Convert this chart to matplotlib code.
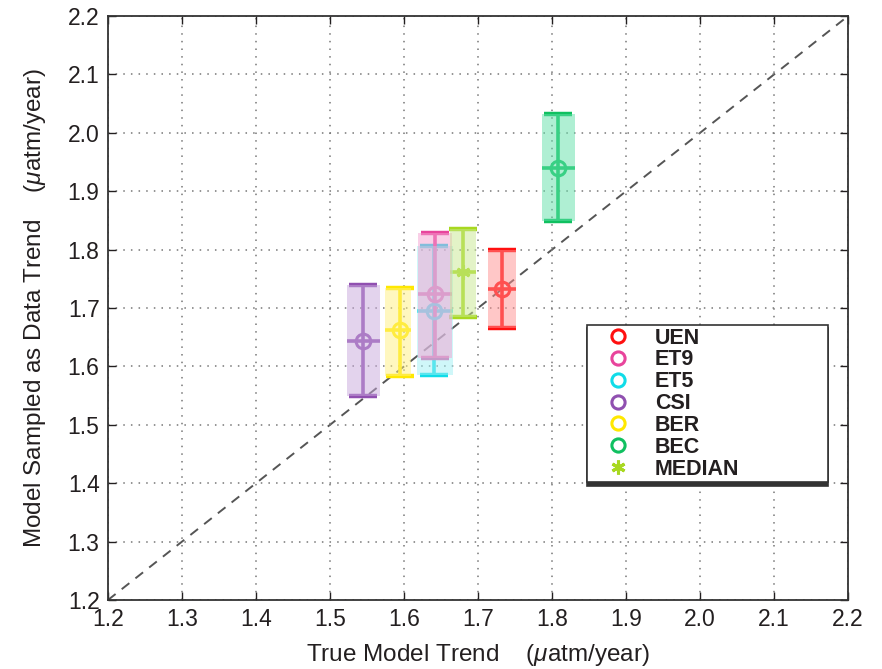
import matplotlib
matplotlib.use("Agg")
import matplotlib.pyplot as plt
from matplotlib.lines import Line2D
from matplotlib.patches import Rectangle

plt.rcParams['font.family'] = ['Liberation Sans', 'DejaVu Sans']
plt.rcParams['mathtext.fontset'] = 'custom'
plt.rcParams['mathtext.it'] = 'Liberation Sans:italic'
plt.rcParams['mathtext.rm'] = 'Liberation Sans'

# ---- data ----
names = ['UEN', 'ET9', 'ET5', 'CSI', 'BER', 'BEC', 'MEDIAN']
x_true = [1.732, 1.642, 1.640, 1.545, 1.594, 1.808, 1.679]
y_samp = [1.733, 1.724, 1.695, 1.644, 1.662, 1.939, 1.761]
y_low = [1.665, 1.615, 1.585, 1.549, 1.584, 1.849, 1.685]
y_high = [1.800, 1.828, 1.806, 1.739, 1.735, 2.032, 1.835]
x_low = [1.714, 1.619, 1.617, 1.523, 1.574, 1.786, 1.662]
x_high = [1.751, 1.665, 1.666, 1.567, 1.610, 1.831, 1.697]
colors = ['#ff1010', '#e8449c', '#10dce8', '#9050b0', '#ffe800', '#10c060', '#a8d820']
box_colors = ['#ff9090', '#f4a0d0', '#a0f0f4', '#c8a8dc', '#fff080', '#60e0a8', '#c8e890']
ticks = [1.2, 1.3, 1.4, 1.5, 1.6, 1.7, 1.8, 1.9, 2.0, 2.1, 2.2]
tick_labels = ['1.2', '1.3', '1.4', '1.5', '1.6', '1.7', '1.8', '1.9', '2.0', '2.1', '2.2']

txt = '#231f20'
fig = plt.figure(figsize=(8.82, 6.69), dpi=100)
ax = fig.add_axes([0.1224, 0.1031, 0.8392, 0.8730])

ax.plot([ticks[0], ticks[-1]], [ticks[0], ticks[-1]], ls=(0, (5, 4)), color='#555555', lw=1.4, zorder=1)

order = [3, 4, 2, 1, 6, 0, 5]
for i in order:
    c = colors[i]
    ax.errorbar(x_true[i], y_samp[i],
                yerr=[[y_samp[i] - y_low[i]], [y_high[i] - y_samp[i]]],
                fmt='none', ecolor=c, elinewidth=2.6, capsize=10, capthick=3.2, zorder=3)
    ax.errorbar(x_true[i], y_samp[i],
                xerr=[[x_true[i] - x_low[i]], [x_high[i] - x_true[i]]],
                fmt='none', ecolor=c, elinewidth=2.6, capsize=0, zorder=3)
    if names[i] == 'MEDIAN':
        ax.plot(x_true[i], y_samp[i], marker=(6, 2, 0), ms=10, mec=c, mew=2.2, ls='none', zorder=4)
    else:
        ax.plot(x_true[i], y_samp[i], marker='o', ms=10.5, mfc='none', mec=c, mew=2.2, ls='none', zorder=4)
    ax.add_patch(Rectangle((x_low[i], y_low[i]), x_high[i] - x_low[i], y_high[i] - y_low[i],
                           facecolor=box_colors[i], edgecolor='none', alpha=0.5, zorder=5))

ax.set_xlim(ticks[0], ticks[-1])
ax.set_ylim(ticks[0], ticks[-1])
ax.set_xticks(ticks)
ax.set_yticks(ticks)
ax.set_xticklabels(tick_labels)
ax.set_yticklabels(tick_labels)
ax.tick_params(direction='in', length=6, width=1, top=True, right=True,
               labelsize=16.5, colors=txt, pad=6)
ax.grid(True, ls=(0, (1, 4)), color='#777777', lw=1.1)
for s in ax.spines.values():
    s.set_color('#333333')
    s.set_linewidth(1.3)

ax.set_xlabel(r'True Model Trend    ($\mu$atm/year)', fontsize=17.5, color=txt, labelpad=8)
ax.set_ylabel(r'Model Sampled as Data Trend    ($\mu$atm/year)', fontsize=17.5, color=txt, labelpad=14)

handles = []
for i, n in enumerate(names):
    if n == 'MEDIAN':
        handles.append(Line2D([], [], marker=(6, 2, 0), ms=10, mec=colors[i], mew=2.2, ls='none'))
    else:
        handles.append(Line2D([], [], marker='o', ms=9.5, mfc='none', mec=colors[i], mew=2.2, ls='none'))
leg = ax.legend(handles, names, loc='upper left', bbox_to_anchor=(0.647, 0.197, 0.326, 0.274),
                mode='expand',
                frameon=True, fancybox=False, framealpha=1, edgecolor='#333333',
                prop={'family': ['Liberation Sans', 'DejaVu Sans'], 'weight': 'bold', 'size': 15.5},
                labelspacing=0.04, handletextpad=0.35, borderpad=0.12, handlelength=2.7,
                borderaxespad=0, shadow={'ox': 0, 'oy': -2.5, 'color': '#333333', 'alpha': 1.0})
leg.get_frame().set_linewidth(1.2)
for t in leg.get_texts():
    t.set_color(txt)
leg.set_zorder(10)

fig.savefig('out.png', dpi=100)
